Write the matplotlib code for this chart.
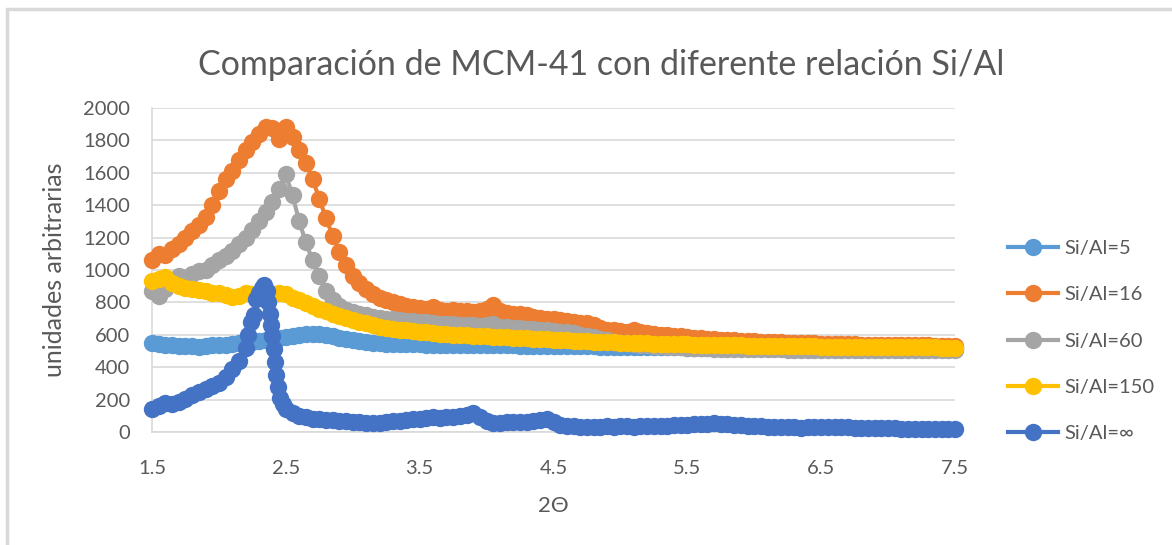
import matplotlib
matplotlib.use("Agg")
import matplotlib.pyplot as plt
from matplotlib.patches import Rectangle

# 2-theta grid shared by most series (step 0.05)
two_theta = [
    1.50, 1.55, 1.60, 1.65, 1.70, 1.75, 1.80, 1.85, 1.90, 1.95,
    2.00, 2.05, 2.10, 2.15, 2.20, 2.25, 2.30, 2.35, 2.40, 2.45,
    2.50, 2.55, 2.60, 2.65, 2.70, 2.75, 2.80, 2.85, 2.90, 2.95,
    3.00, 3.05, 3.10, 3.15, 3.20, 3.25, 3.30, 3.35, 3.40, 3.45,
    3.50, 3.55, 3.60, 3.65, 3.70, 3.75, 3.80, 3.85, 3.90, 3.95,
    4.00, 4.05, 4.10, 4.15, 4.20, 4.25, 4.30, 4.35, 4.40, 4.45,
    4.50, 4.55, 4.60, 4.65, 4.70, 4.75, 4.80, 4.85, 4.90, 4.95,
    5.00, 5.05, 5.10, 5.15, 5.20, 5.25, 5.30, 5.35, 5.40, 5.45,
    5.50, 5.55, 5.60, 5.65, 5.70, 5.75, 5.80, 5.85, 5.90, 5.95,
    6.00, 6.05, 6.10, 6.15, 6.20, 6.25, 6.30, 6.35, 6.40, 6.45,
    6.50, 6.55, 6.60, 6.65, 6.70, 6.75, 6.80, 6.85, 6.90, 6.95,
    7.00, 7.05, 7.10, 7.15, 7.20, 7.25, 7.30, 7.35, 7.40, 7.45,
    7.50,
]

si_al_5 = [
    550, 545, 540, 535, 530, 528, 530, 527, 530, 535,
    538, 540, 545, 548, 552, 555, 560, 565, 570, 578,
    585, 592, 598, 603, 605, 603, 598, 590, 582, 575,
    568, 562, 556, 552, 548, 546, 545, 544, 542, 542,
    541, 540, 540, 539, 540, 538, 538, 537, 537, 536,
    536, 535, 535, 534, 534, 533, 533, 532, 532, 531,
    531, 530, 530, 529, 529, 528, 528, 527, 527, 526,
    526, 525, 525, 524, 524, 523, 523, 522, 522, 522,
    521, 521, 520, 520, 520, 519, 519, 519, 518, 518,
    518, 517, 517, 517, 516, 516, 516, 516, 515, 515,
    515, 515, 514, 514, 514, 514, 513, 513, 513, 513,
    512, 512, 512, 512, 511, 511, 511, 511, 510, 510,
    510,
]

si_al_16 = [
    1060, 1100, 1095, 1130, 1160, 1200, 1240, 1280, 1330, 1400,
    1490, 1560, 1610, 1680, 1740, 1790, 1840, 1880, 1875, 1810,
    1880, 1820, 1740, 1660, 1560, 1440, 1320, 1210, 1110, 1030,
    960, 920, 880, 850, 830, 815, 800, 790, 775, 770,
    765, 760, 770, 755, 750, 752, 748, 745, 740, 745,
    760, 785, 745, 735, 730, 728, 720, 712, 705, 700,
    698, 690, 685, 680, 672, 675, 660, 645, 632, 628,
    625, 620, 628, 615, 612, 605, 600, 597, 592, 590,
    585, 582, 578, 575, 572, 570, 568, 565, 562, 560,
    560, 558, 556, 555, 553, 552, 550, 550, 548, 547,
    546, 545, 545, 543, 542, 542, 540, 540, 539, 538,
    538, 537, 536, 536, 535, 535, 534, 533, 533, 532,
    532,
]

si_al_60 = [
    870, 840, 880, 930, 965, 950, 975, 995, 1000, 1030,
    1060, 1085, 1120, 1160, 1200, 1250, 1300, 1360, 1420, 1500,
    1590, 1460, 1300, 1170, 1060, 960, 870, 815, 780, 755,
    740, 730, 722, 712, 705, 700, 695, 690, 688, 685,
    680, 678, 675, 665, 668, 665, 660, 662, 658, 655,
    662, 665, 650, 648, 645, 640, 638, 635, 630, 628,
    625, 620, 615, 610, 600, 595, 585, 575, 565, 558,
    552, 548, 545, 540, 535, 532, 530, 527, 525, 522,
    520, 518, 517, 516, 515, 514, 514, 513, 512, 512,
    511, 511, 510, 510, 510, 509, 509, 509, 508, 508,
    508, 508, 507, 507, 507, 507, 506, 506, 506, 506,
    505, 505, 505, 505, 505, 504, 504, 504, 504, 504,
    504,
]

si_al_150 = [
    930, 945, 955, 920, 900, 890, 885, 875, 870, 860,
    855, 845, 835, 840, 855, 850, 840, 830, 845, 860,
    850, 825, 815, 795, 775, 760, 745, 730, 718, 705,
    690, 680, 670, 660, 650, 643, 637, 632, 628, 622,
    618, 615, 612, 608, 605, 600, 598, 596, 594, 592,
    590, 588, 586, 584, 582, 580, 578, 576, 574, 572,
    570, 568, 566, 564, 562, 560, 558, 556, 554, 553,
    551, 550, 549, 548, 547, 546, 545, 544, 543, 542,
    541, 540, 539, 538, 537, 536, 535, 534, 534, 533,
    532, 532, 531, 531, 530, 530, 529, 529, 528, 528,
    527, 527, 527, 526, 526, 526, 525, 525, 525, 524,
    524, 524, 523, 523, 523, 522, 522, 522, 521, 521,
    521,
]

# Si/Al = inf has a sharp spike, so it gets a finer grid around 2.2-2.5
two_theta_inf = [
    1.50, 1.55, 1.60, 1.65, 1.70, 1.75, 1.80, 1.85, 1.90, 1.95,
    2.00, 2.05, 2.10, 2.15, 2.20, 2.22, 2.24, 2.26, 2.28, 2.30,
    2.32, 2.34, 2.36, 2.37, 2.38, 2.39, 2.40, 2.41, 2.42, 2.43,
    2.44, 2.46, 2.48, 2.50,
    2.55, 2.60, 2.65, 2.70, 2.75, 2.80, 2.85, 2.90, 2.95,
    3.00, 3.05, 3.10, 3.15, 3.20, 3.25, 3.30, 3.35, 3.40, 3.45,
    3.50, 3.55, 3.60, 3.65, 3.70, 3.75, 3.80, 3.85, 3.90, 3.95,
    4.00, 4.05, 4.10, 4.15, 4.20, 4.25, 4.30, 4.35, 4.40, 4.45,
    4.50, 4.55, 4.60, 4.65, 4.70, 4.75, 4.80, 4.85, 4.90, 4.95,
    5.00, 5.05, 5.10, 5.15, 5.20, 5.25, 5.30, 5.35, 5.40, 5.45,
    5.50, 5.55, 5.60, 5.65, 5.70, 5.75, 5.80, 5.85, 5.90, 5.95,
    6.00, 6.05, 6.10, 6.15, 6.20, 6.25, 6.30, 6.35, 6.40, 6.45,
    6.50, 6.55, 6.60, 6.65, 6.70, 6.75, 6.80, 6.85, 6.90, 6.95,
    7.00, 7.05, 7.10, 7.15, 7.20, 7.25, 7.30, 7.35, 7.40, 7.45,
    7.50,
]

si_al_inf = [
    140, 160, 180, 170, 185, 205, 230, 250, 265, 285,
    300, 340, 390, 440, 520, 600, 680, 720, 820, 860,
    890, 905, 870, 800, 730, 660, 590, 510, 430, 350,
    280, 210, 170, 145,
    120, 100, 90, 82, 78, 75, 72, 70, 66,
    62, 60, 58, 56, 58, 62, 66, 70, 72, 78,
    82, 86, 90, 88, 92, 95, 100, 108, 115, 95,
    70, 58, 58, 60, 62, 60, 62, 68, 75, 80,
    62, 45, 38, 35, 32, 32, 33, 32, 35, 33,
    35, 34, 32, 35, 38, 36, 40, 38, 42, 45,
    44, 48, 52, 50, 55, 50, 48, 45, 42, 40,
    38, 36, 32, 30, 28, 30, 28, 27, 28, 30,
    28, 30, 32, 30, 28, 26, 25, 24, 24, 22,
    22, 22, 20, 20, 20, 19, 18, 18, 18, 18,
    20,
]

labels = ["Si/Al=5", "Si/Al=16", "Si/Al=60", "Si/Al=150", "Si/Al=\u221e"]
colors = ["#5B9BD5", "#ED7D31", "#A5A5A5", "#FFC000", "#4472C4"]
x_ticks = [1.5, 2.5, 3.5, 4.5, 5.5, 6.5, 7.5]
y_ticks = [0, 200, 400, 600, 800, 1000, 1200, 1400, 1600, 1800, 2000]

plt.rcParams["font.family"] = ["Lato", "DejaVu Sans"]
text_gray = "#595959"

fig = plt.figure(figsize=(11.72, 5.45), dpi=100)
ax = fig.add_axes([152 / 1172, 113 / 545, 803 / 1172, 324 / 545])

series = [
    (two_theta, si_al_5),
    (two_theta, si_al_16),
    (two_theta, si_al_60),
    (two_theta, si_al_150),
    (two_theta_inf, si_al_inf),
]
for (xs, ys), lab, col in zip(series, labels, colors):
    ax.plot(xs, ys, color=col, lw=3, marker="o", markersize=12.5,
            markeredgewidth=0, label=lab, clip_on=False, zorder=3)

ax.set_xlim(1.5, 7.5)
ax.set_ylim(0, 2000)
ax.set_xticks(x_ticks)
ax.set_xticklabels([str(t) for t in x_ticks])
ax.set_yticks(y_ticks)
ax.tick_params(length=0, labelsize=14.5, colors=text_gray)
ax.tick_params(axis="x", pad=20)
ax.tick_params(axis="y", pad=16)
ax.grid(axis="y", color="#D9D9D9", lw=1.2)
ax.set_axisbelow(True)
for side in ["top", "right"]:
    ax.spines[side].set_visible(False)
for side in ["left", "bottom"]:
    ax.spines[side].set_color("#D9D9D9")
    ax.spines[side].set_linewidth(1.2)

ax.set_xlabel("2\u0398", fontsize=16, color=text_gray, labelpad=14)
ax.set_ylabel("unidades arbitrarias", fontsize=18, color=text_gray, labelpad=12)
fig.text(0.513, 1 - 65 / 545, "Comparación de MCM-41 con diferente relación Si/Al",
         ha="center", va="center", fontsize=24.5, color=text_gray)

leg = fig.legend(loc="center left", bbox_to_anchor=(1008 / 1172, 1 - 341 / 545),
                 frameon=False, fontsize=14.5, labelcolor=text_gray,
                 borderpad=0, borderaxespad=0,
                 handlelength=2.5, labelspacing=1.45, handletextpad=0.3)

# chart area border
fig.patches.append(Rectangle((7 / 1172, -0.1), 1.2, 1 - 9 / 545 + 0.1,
                             transform=fig.transFigure, fill=False,
                             edgecolor="#D9D9D9", lw=2.5))

fig.savefig("out.png", dpi=100)
